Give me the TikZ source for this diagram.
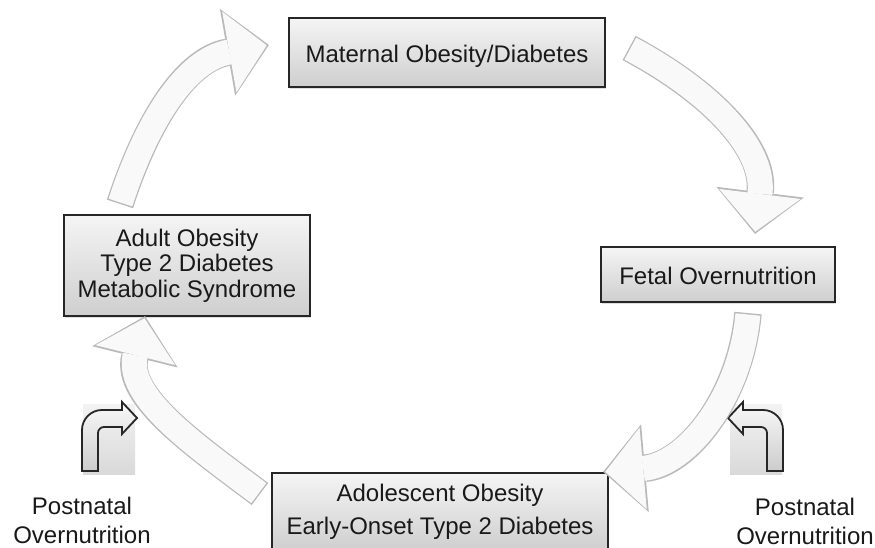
\documentclass[tikz,border=0pt]{standalone}
\usepackage{fontspec}
\setmainfont{Liberation Sans}
\usetikzlibrary{arrows.meta, positioning, shadows}

\tikzset{
  stage/.style={draw=black!85, line width=2.2pt, top color=gray!8, bottom color=gray!38,
    drop shadow={shadow xshift=1.2pt, shadow yshift=-1.8pt, opacity=0.25},
    align=center, inner sep=0pt, text=black!90, font=\fontsize{24}{25.5}\selectfont},
  oneline/.style={text height=21pt, text depth=0pt},
  note/.style={align=center, inner sep=0pt, text=black!90, font=\fontsize{24}{29}\selectfont},
  cycarrow/.style={
    preaction={draw=gray!55, line width=27.5pt, shorten >=0pt, shorten <=0pt,
      -{Triangle[length=42pt, width=88pt, line width=0pt]}},
    draw=gray!5, line width=25pt, shorten >=2.2pt, shorten <=1.4pt,
    -{Triangle[length=38pt, width=82pt, line width=0pt]}},
  turnarrow/.pic={
    \path[top color=gray!10, bottom color=gray!30] (-26,-35) rectangle (26,35);
    \draw[line width=1.8pt, draw=black!85, top color=gray!4, bottom color=gray!40]
      (-27,-31) -- (-27,10) arc[start angle=180, end angle=90, radius=20]
      -- (13,30) -- (13,38) -- (28,22) -- (13,6) -- (13,13) -- (-5,13)
      arc[start angle=90, end angle=180, radius=6] -- (-11,-31) -- cycle;
  }
}

\begin{document}
\begin{tikzpicture}[x=1pt, y=1pt]
  \useasboundingbox[fill=white] (0,0) rectangle (875,548);

  \node[stage, oneline, minimum width=316pt, minimum height=69pt] (maternal) at (447,495.5) {Maternal Obesity/Diabetes};
  \node[stage, oneline, minimum width=234pt, minimum height=55pt] (fetal) at (718,273.5) {Fetal Overnutrition};
  \node[stage, minimum width=336pt, minimum height=78pt] (adolescent) at (440,36) {Adolescent Obesity\\[7.5pt]Early-Onset Type 2 Diabetes};
  \node[stage, minimum width=246pt, minimum height=101pt] (adult) at (187,282.5) {Adult Obesity\\Type 2 Diabetes\\Metabolic Syndrome};

  \node[note] (postleft) at (82,27.3) {Postnatal\\Overnutrition};
  \node[note] (postright) at (805,26.5) {Postnatal\\Overnutrition};

  \pic at (109,108) {turnarrow};
  \pic[xscale=-1] at (756,108) {turnarrow};

  \draw[cycarrow] ([shift={(-67,10)}]adult.north) to[out=72, in=190] ([shift={(-19,7.5)}]maternal.west);
  \draw[cycarrow] ([shift={(23,4.5)}]maternal.east) to[out=-28, in=83] ([shift={(37,12)}]fetal.north);
  \draw[cycarrow] ([shift={(30,-10)}]fetal.south) to[out=265, in=5] ([shift={(-6,0)}]adolescent.north east);
  \draw[cycarrow] ([shift={(-11,18)}]adolescent.west) to[out=143, in=256] ([shift={(-42,1)}]adult.south);
\end{tikzpicture}
\end{document}
